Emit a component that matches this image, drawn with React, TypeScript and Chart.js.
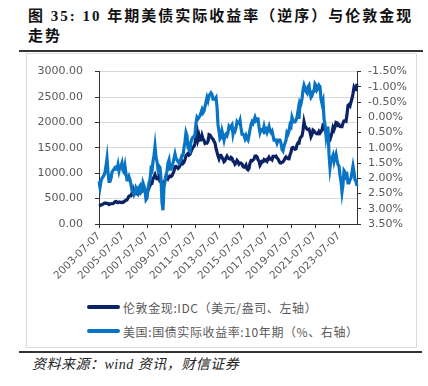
import React, { useEffect, useRef } from "react";
import { Chart, registerables } from "chart.js";

Chart.register(...registerables);

// Monthly observations, first month 2003-07
const START_YEAR = 2003;
const START_MONTH = 7;

// 伦敦金现 (USD/oz)
const goldValues = [
  351, 360, 379, 379, 389, 407,
  414, 405, 406, 404, 384, 392, 398, 400, 405, 420, 439, 442,
  424, 423, 434, 429, 422, 430, 424, 438, 456, 470, 476, 510,
  549, 555, 557, 610, 676, 596, 633, 632, 598, 585, 627, 629,
  631, 665, 655, 679, 667, 655, 665, 665, 712, 754, 806, 803,
  889, 922, 968, 909, 888, 889, 939, 839, 829, 806, 760, 816,
  858, 943, 924, 890, 928, 946, 934, 949, 996, 1043, 1127, 1134,
  1118, 1095, 1113, 1148, 1205, 1232, 1193, 1215, 1270, 1342, 1370, 1391,
  1356, 1372, 1424, 1474, 1510, 1528, 1572, 1790, 1840, 1665, 1739, 1652,
  1656, 1742, 1673, 1650, 1585, 1596, 1594, 1626, 1760, 1750, 1722, 1685,
  1671, 1627, 1593, 1487, 1414, 1343, 1286, 1347, 1349, 1316, 1275, 1225,
  1244, 1300, 1336, 1299, 1287, 1279, 1311, 1296, 1239, 1222, 1176, 1201,
  1251, 1227, 1179, 1198, 1199, 1181, 1131, 1117, 1125, 1159, 1086, 1068,
  1097, 1199, 1246, 1242, 1260, 1276, 1337, 1340, 1326, 1266, 1238, 1157,
  1192, 1234, 1231, 1266, 1246, 1260, 1236, 1283, 1315, 1280, 1283, 1265,
  1331, 1331, 1325, 1335, 1303, 1282, 1238, 1202, 1198, 1215, 1221, 1250,
  1291, 1320, 1300, 1285, 1283, 1359, 1413, 1500, 1510, 1495, 1471, 1480,
  1560, 1597, 1592, 1683, 1715, 1732, 1847, 2010, 1922, 1900, 1866, 1858,
  1867, 1808, 1718, 1760, 1850, 1834, 1807, 1785, 1775, 1777, 1821, 1790,
  1817, 1856, 1947, 1937, 1848, 1837, 1733, 1764, 1681, 1664, 1726, 1798,
  1898, 1855, 1912, 2000, 1992, 1942, 1951, 1918, 1916, 1916, 1985, 2031,
  2034, 2023, 2159, 2331, 2350, 2326, 2398, 2470, 2570, 2690, 2650, 2648,
  2760,
];

// 美国:国债实际收益率:10年期 (%)
const realYieldValues = [
  2.1, 2.3, 2.1, 2.0, 1.95, 1.9,
  1.8, 1.6, 1.35, 1.8, 2.1, 2.1, 2.0, 1.8, 1.75, 1.7, 1.65, 1.7,
  1.7, 1.55, 1.75, 1.6, 1.6, 1.5, 1.75, 1.8, 1.6, 1.85, 2.05, 2.05,
  1.95, 2.05, 2.2, 2.4, 2.45, 2.55, 2.5, 2.3, 2.35, 2.45, 2.3, 2.25,
  2.45, 2.4, 2.15, 2.25, 2.4, 2.7, 2.65, 2.35, 2.15, 2.05, 1.7, 1.75,
  1.45, 1.25, 0.95, 1.3, 1.45, 1.7, 1.6, 1.65, 2.0, 2.8, 3.05, 2.3,
  2.1, 1.95, 1.75, 1.5, 1.4, 1.7, 1.7, 1.6, 1.5, 1.35, 1.2, 1.35,
  1.4, 1.45, 1.5, 1.45, 1.35, 1.25, 1.25, 1.0, 0.8, 0.5, 0.6, 1.0,
  1.05, 1.1, 0.8, 0.7, 0.65, 0.65, 0.55, 0.2, 0.0, 0.05, 0.0, -0.05,
  -0.15, -0.25, -0.15, -0.2, -0.35, -0.5, -0.65, -0.55, -0.7, -0.75, -0.8, -0.75,
  -0.6, -0.6, -0.6, -0.65, -0.35, 0.25, 0.45, 0.7, 0.65, 0.45, 0.6, 0.75,
  0.6, 0.55, 0.6, 0.5, 0.3, 0.35, 0.3, 0.25, 0.55, 0.4, 0.45, 0.35,
  0.15, 0.2, 0.2, 0.1, 0.35, 0.55, 0.55, 0.6, 0.7, 0.6, 0.7, 0.75,
  0.6, 0.4, 0.25, 0.15, 0.2, 0.1, 0.0, 0.1, 0.05, 0.05, 0.3, 0.5,
  0.4, 0.4, 0.45, 0.3, 0.45, 0.4, 0.5, 0.4, 0.3, 0.45, 0.5, 0.45,
  0.6, 0.75, 0.75, 0.75, 0.85, 0.75, 0.75, 0.75, 0.85, 1.05, 1.1, 0.95,
  0.85, 0.75, 0.5, 0.55, 0.45, 0.25, 0.3, 0.0, 0.1, 0.15, 0.15, 0.1,
  0.0, -0.2, 0.05, -0.5, -0.45, -0.6, -0.9, -1.05, -0.95, -0.85, -0.8, -1.0,
  -1.05, -0.8, -0.65, -0.7, -0.85, -0.85, -1.1, -1.05, -0.9, -0.95, -1.05, -1.0,
  -0.6, -0.45, -0.55, 0.05, 0.25, 0.6, 0.35, 0.35, 1.2, 1.65, 1.4, 1.35,
  1.25, 1.45, 1.3, 1.2, 1.4, 1.55, 1.6, 1.9, 2.1, 2.45, 2.2, 1.75,
  1.8, 1.95, 1.9, 2.15, 2.15, 2.05, 2.0, 1.8, 1.6, 1.8, 2.05, 2.1,
  2.25,
];

const dateLabels = goldValues.map((_, i) => {
  const m = START_MONTH - 1 + i;
  const y = START_YEAR + Math.floor(m / 12);
  const mm = (m % 12) + 1;
  return `${y}-${String(mm).padStart(2, "0")}-07`;
});

const xTickLabels = [
  "2003-07-07", "2005-07-07", "2007-07-07", "2009-07-07", "2011-07-07",
  "2013-07-07", "2015-07-07", "2017-07-07", "2019-07-07", "2021-07-07",
  "2023-07-07",
];

const seriesNames = ["伦敦金现:IDC（美元/盎司、左轴）", "美国:国债实际收益率:10年期（%、右轴）"];
const seriesColors = ["#0B2265", "#0A74C4"];

const TICK_COLOR = "#595959";
const AXIS_COLOR = "#333333";

export default function App() {
  const canvasRef = useRef<HTMLCanvasElement | null>(null);

  useEffect(() => {
    if (!canvasRef.current) return;
    const chart = new Chart(canvasRef.current, {
      type: "line",
      data: {
        labels: dateLabels,
        datasets: [
          {
            label: seriesNames[0],
            data: goldValues,
            borderColor: seriesColors[0],
            backgroundColor: seriesColors[0],
            borderWidth: 3.2,
            pointRadius: 0,
            tension: 0,
            yAxisID: "yL",
            order: 2,
          },
          {
            label: seriesNames[1],
            data: realYieldValues,
            borderColor: seriesColors[1],
            backgroundColor: seriesColors[1],
            borderWidth: 3.2,
            pointRadius: 0,
            tension: 0,
            yAxisID: "yR",
            order: 1,
          },
        ],
      },
      options: {
        animation: false,
        responsive: true,
        maintainAspectRatio: false,
        layout: { padding: { top: 17, left: 0, right: 0, bottom: 0 } },
        plugins: { legend: { display: false }, tooltip: { enabled: false } },
        scales: {
          x: {
            type: "category",
            offset: false,
            afterBuildTicks: (scale: any) => {
              scale.ticks = scale.ticks.filter((t: any) => xTickLabels.includes(dateLabels[t.value]));
            },
            afterFit: (scale: any) => {
              scale.height = 74;
            },
            grid: { drawOnChartArea: false, tickLength: 4, tickColor: AXIS_COLOR },
            border: { display: true, color: AXIS_COLOR, width: 1 },
            ticks: {
              autoSkip: false,
              minRotation: 45,
              maxRotation: 45,
              padding: 2,
              color: TICK_COLOR,
              font: { family: "DejaVu Sans", size: 10.5 },
            },
          },
          yL: {
            type: "linear",
            position: "left",
            min: 0,
            max: 3000,
            afterFit: (scale: any) => {
              scale.width = 72;
            },
            grid: { color: "#d9d9d9", lineWidth: 1, tickLength: 4, tickColor: AXIS_COLOR },
            border: { display: true, color: AXIS_COLOR, width: 1 },
            ticks: {
              autoSkip: false,
              stepSize: 500,
              padding: 12,
              color: TICK_COLOR,
              font: { family: "DejaVu Sans", size: 11 },
              callback: (v: any) => Number(v).toFixed(2),
            },
          },
          yR: {
            type: "linear",
            position: "right",
            reverse: true,
            min: -1.5,
            max: 3.5,
            afterFit: (scale: any) => {
              scale.width = 59;
            },
            grid: { drawOnChartArea: false, tickLength: 4, tickColor: AXIS_COLOR },
            border: { display: true, color: AXIS_COLOR, width: 1 },
            ticks: {
              autoSkip: false,
              stepSize: 0.5,
              padding: 7,
              color: TICK_COLOR,
              font: { family: "DejaVu Sans", size: 11 },
              callback: (v: any) => Number(v).toFixed(2) + "%",
            },
          },
        },
      },
    });
    return () => chart.destroy();
  }, []);

  const legendRow = (i: number, top: number) => (
    <div
      key={i}
      style={{ position: "absolute", left: 87, top, height: 16, display: "flex", alignItems: "center", whiteSpace: "nowrap" }}
    >
      <div style={{ width: 33, height: 4, background: seriesColors[i], borderRadius: 2, marginRight: 3 }} />
      <span style={{ fontFamily: '"Noto Sans CJK SC", sans-serif', fontSize: 12, color: TICK_COLOR, letterSpacing: 0.6 }}>
        {seriesNames[i]}
      </span>
    </div>
  );

  return (
    <div style={{ position: "absolute", left: 0, top: 0, width: 428, height: 386, background: "#fff" }}>
      <div
        style={{
          position: "absolute",
          left: 28,
          top: 6,
          fontFamily: '"Liberation Serif", "Noto Sans CJK SC", serif',
          fontWeight: 700,
          fontSize: 15,
          lineHeight: "20px",
          letterSpacing: 2,
          color: "#111",
          whiteSpace: "nowrap",
        }}
      >
        图 35: 10 年期美债实际收益率（逆序）与伦敦金现
        <br />
        走势
      </div>
      <div style={{ position: "absolute", left: 19, top: 50, width: 404, height: 2, background: "#333" }} />
      <div
        style={{
          position: "absolute",
          left: 26,
          top: 53,
          width: 391,
          height: 295,
          border: "1px solid #dcdcdc",
          boxSizing: "border-box",
        }}
      />
      <div style={{ position: "absolute", left: 27, top: 53, width: 389, height: 245 }}>
        <canvas ref={canvasRef} />
      </div>
      {legendRow(0, 299)}
      {legendRow(1, 323)}
      <div style={{ position: "absolute", left: 19, top: 351, width: 403, height: 2, background: "#333" }} />
      <div
        style={{
          position: "absolute",
          left: 32,
          top: 357,
          fontFamily: '"Liberation Serif", "Noto Sans CJK SC", serif',
          fontStyle: "italic",
          fontSize: 14,
          lineHeight: "16px",
          letterSpacing: 0.5,
          color: "#222",
          whiteSpace: "nowrap",
        }}
      >
        资料来源：wind 资讯，财信证券
      </div>
    </div>
  );
}
